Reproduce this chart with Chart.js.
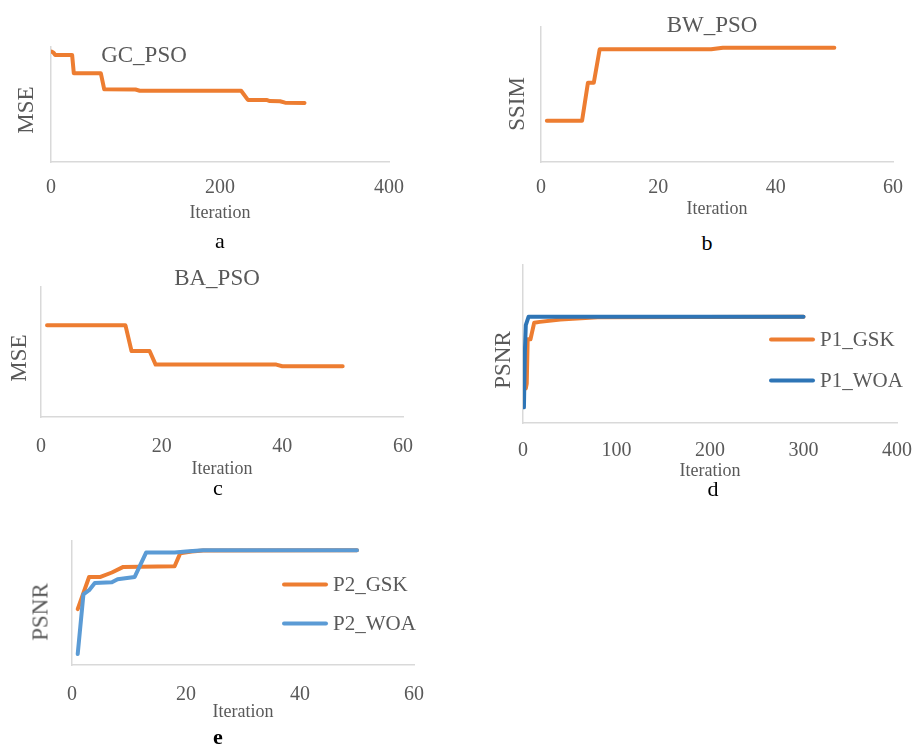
<!DOCTYPE html>
<html>
<head>
<meta charset="utf-8">
<script src="https://cdn.jsdelivr.net/npm/chart.js@4.4.1/dist/chart.umd.min.js"></script>
<style>
  body { margin: 0; background: #fff; }
  #page { position: relative; width: 915px; height: 744px; overflow: hidden; font-family: "Liberation Serif", "Times New Roman", serif; }
  canvas { position: absolute; }
  .txt { position: absolute; transform: translate(-50%, -50%); line-height: 1; white-space: nowrap; color: #595959; }
  .ytitle { transform: translate(-50%, -50%) rotate(-90deg); }
  .sub { color: #000; font-size: 22px; }
  .leg { position: absolute; display: flex; align-items: center; transform: translateY(-50%); font-size: 21px; color: #595959; line-height: 1; white-space: nowrap; }
  .leg span.sw { display: inline-block; width: 46px; height: 4px; border-radius: 2px; margin-right: 5px; }
</style>
</head>
<body>
<div id="page">
  <canvas id="chartA"></canvas>
  <canvas id="chartB"></canvas>
  <canvas id="chartC"></canvas>
  <canvas id="chartD"></canvas>
  <canvas id="chartE"></canvas>

  <div class="txt" style="left:144px; top:54px; font-size:23px;">GC_PSO</div>
  <div class="txt" style="left:712px; top:24px; font-size:23px;">BW_PSO</div>
  <div class="txt" style="left:217px; top:277px; font-size:23px;">BA_PSO</div>

  <div class="txt ytitle" style="left:25px; top:110px; font-size:23px;">MSE</div>
  <div class="txt ytitle" style="left:516px; top:104px; font-size:23px;">SSIM</div>
  <div class="txt ytitle" style="left:18px; top:358px; font-size:23px;">MSE</div>
  <div class="txt ytitle" style="left:502px; top:360px; font-size:23px;">PSNR</div>
  <div class="txt ytitle" style="left:40px; top:612px; font-size:23px;">PSNR</div>

  <div class="txt sub" style="left:220px; top:241px;">a</div>
  <div class="txt sub" style="left:707px; top:243px;">b</div>
  <div class="txt sub" style="left:218px; top:488px;">c</div>
  <div class="txt sub" style="left:713px; top:489px;">d</div>
  <div class="txt sub" style="left:218px; top:737px; font-weight:bold;">e</div>

  <div class="leg" style="left:769px; top:339px;"><span class="sw" style="background:#ED7D31"></span>P1_GSK</div>
  <div class="leg" style="left:769px; top:380px;"><span class="sw" style="background:#2E75B6"></span>P1_WOA</div>
  <div class="leg" style="left:282px; top:584px;"><span class="sw" style="background:#ED7D31"></span>P2_GSK</div>
  <div class="leg" style="left:282px; top:623px;"><span class="sw" style="background:#5B9BD5"></span>P2_WOA</div>
</div>

<script>
// -------- DATA (y values on a 0..100 relative scale, no y ticks in the figure) --------
// a: GC_PSO, MSE over 300 iterations
const gcIter = [1, 3, 5, 25, 27, 59, 63, 100, 105, 225, 233, 255, 259, 271, 277, 300];
const gcMse  = [95.9, 95, 93, 93, 77.1, 77.1, 63.2, 63, 62, 62, 54, 54, 53, 52.8, 51.6, 51.4];

// b: BW_PSO, SSIM over 50 iterations
const bwIter = [1, 7, 8, 9, 10, 29, 31, 50];
const bwSsim = [30.6, 30.6, 58.7, 58.7, 83.5, 83.5, 84.7, 84.7];

// c: BA_PSO, MSE over 50 iterations
const baIter = [1, 14, 15, 18, 19, 39, 40, 50];
const baMse  = [70.5, 70.5, 50.8, 50.8, 40.3, 40.3, 39, 39];

// d: PSNR, 300 iterations
const p1GskIter = [1, 3, 4, 5, 8, 12, 18, 40, 80, 300];
const p1Gsk     = [21, 22, 25, 53, 53, 63.5, 64, 65.5, 67, 67.3];
const p1WoaIter = [1, 2, 3, 6, 300];
const p1Woa     = [9.9, 45, 62, 67.3, 67.3];

// e: PSNR, 50 iterations
const p2GskIter = [1, 3, 5, 7, 9, 18, 19, 21, 23, 50];
const p2Gsk     = [45, 71, 71, 74.6, 79.1, 79.6, 90.2, 91.5, 92.3, 92.5];
const p2WoaIter = [1, 2, 3, 4, 7, 8, 11, 13, 18, 20, 23, 50];
const p2Woa     = [8.8, 56.9, 60.3, 66.2, 66.8, 69.2, 71, 90.7, 90.7, 91.5, 92.5, 92.5];

// -------- COLOURS --------
const ORANGE = "#ED7D31";
const BLUE_D = "#2E75B6";
const BLUE_E = "#5B9BD5";
const AXIS = "#D9D9D9";
const TEXT = "#595959";

function pts(xs, ys) {
    return xs.map((x, i) => ({ x: x, y: ys[i] }));
}

// box = plot area on the page, xMax/step = x axis, hx = x-axis band height
function makeChart(id, box, xMax, step, datasets, tickPad, hx) {
    const PL = 30, PR = 30, PT = 10;
    const cv = document.getElementById(id);
    const w = box.R - box.L + PL + PR;
    const h = box.B - box.T + PT + hx;
    cv.width = w;
    cv.height = h;
    cv.style.left = (box.L - PL) + "px";
    cv.style.top = (box.T - PT) + "px";
    cv.style.width = w + "px";
    cv.style.height = h + "px";

    return new Chart(cv, {
        type: "line",
        data: { datasets: datasets },
        options: {
            responsive: false,
            animation: false,
            devicePixelRatio: 1,
            layout: { padding: { left: PL, right: PR, top: PT, bottom: 0 } },
            plugins: { legend: { display: false }, tooltip: { enabled: false } },
            elements: {
                point: { radius: 0 },
                line: { borderWidth: 4, tension: 0, borderCapStyle: "round", borderJoinStyle: "round" }
            },
            scales: {
                x: {
                    type: "linear", min: 0, max: xMax,
                    ticks: { stepSize: step, color: TEXT, padding: tickPad, font: { family: "Liberation Serif", size: 20 } },
                    grid: { display: false, drawTicks: false },
                    border: { color: AXIS, width: 1.5 },
                    title: { display: true, text: "Iteration", color: TEXT, padding: 0, font: { family: "Liberation Serif", size: 18 } },
                    afterFit: s => { s.height = hx; }
                },
                y: {
                    min: 0, max: 100,
                    ticks: { display: false },
                    grid: { display: false, drawTicks: false },
                    border: { color: AXIS, width: 1.5 },
                    afterFit: s => { s.width = 0; }
                }
            }
        }
    });
}

function series(label, xs, ys, color, order) {
    return { label: label, data: pts(xs, ys), borderColor: color, backgroundColor: color, order: order, fill: false };
}

makeChart("chartA", { L: 51, T: 47, R: 389, B: 162 }, 400, 200,
    [series("GC_PSO", gcIter, gcMse, ORANGE, 0)], 14, 62);

makeChart("chartB", { L: 541, T: 27, R: 893, B: 162 }, 60, 20,
    [series("BW_PSO", bwIter, bwSsim, ORANGE, 0)], 14, 58);

makeChart("chartC", { L: 41, T: 287, R: 403, B: 417 }, 60, 20,
    [series("BA_PSO", baIter, baMse, ORANGE, 0)], 18, 63);

makeChart("chartD", { L: 523, T: 265, R: 898, B: 423 }, 400, 100,
    [series("P1_GSK", p1GskIter, p1Gsk, ORANGE, 1),
     series("P1_WOA", p1WoaIter, p1Woa, BLUE_D, 0)], 16, 59);

makeChart("chartE", { L: 72, T: 541, R: 414, B: 665 }, 60, 20,
    [series("P2_GSK", p2GskIter, p2Gsk, ORANGE, 1),
     series("P2_WOA", p2WoaIter, p2Woa, BLUE_E, 0)], 18, 58);
</script>
</body>
</html>
